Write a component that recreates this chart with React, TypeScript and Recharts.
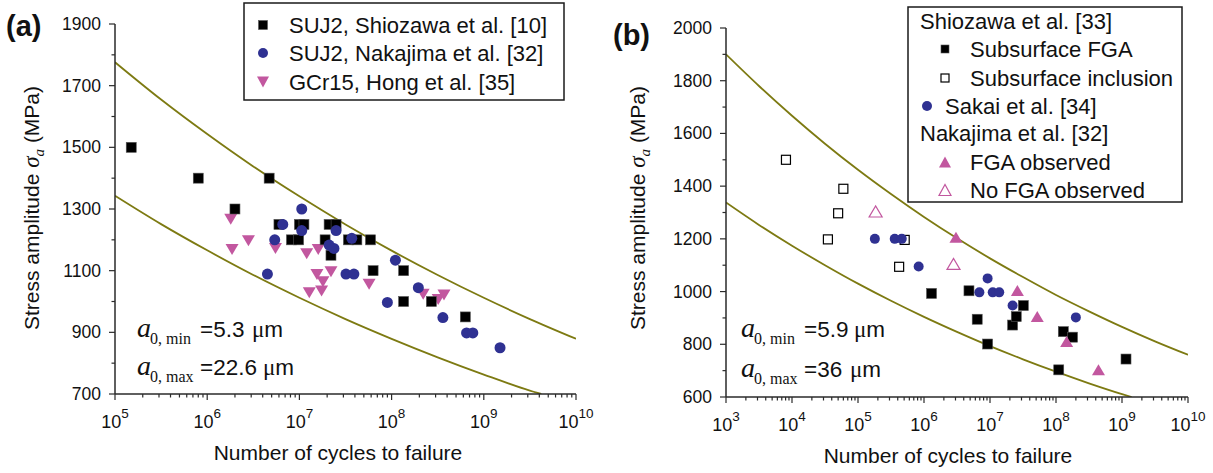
import React from 'react';
import { ComposedChart, Scatter, Line, XAxis, YAxis } from 'recharts';

const SANS = '"Liberation Sans", Arial, Helvetica, sans-serif';
const SERIF = '"Liberation Serif", "Times New Roman", serif';
const AXIS = '#2a2a2a';
const CURVE = '#7d7a12';
const BLUE = '#2f3192';
const PINK = '#c2579f';

// ---------- panel (a) ----------
const xMajorA = [1e5, 1e6, 1e7, 1e8, 1e9, 1e10];
const xExpA = ['5', '6', '7', '8', '9', '10'];
const yMajorA = [700, 900, 1100, 1300, 1500, 1700, 1900];
const yAllA = [700, 800, 900, 1000, 1100, 1200, 1300, 1400, 1500, 1600, 1700, 1800, 1900];

// SUJ2, Shiozawa et al. [10]
const shiozawaA = [
  { x: 1.5e5, y: 1500 }, { x: 8.0e5, y: 1400 }, { x: 4.7e6, y: 1400 }, { x: 2.0e6, y: 1300 },
  { x: 6.0e6, y: 1250 }, { x: 1.0e7, y: 1250 }, { x: 1.12e7, y: 1250 }, { x: 2.1e7, y: 1250 },
  { x: 2.5e7, y: 1250 }, { x: 8.2e6, y: 1200 }, { x: 9.8e6, y: 1200 }, { x: 1.9e7, y: 1200 },
  { x: 2.2e7, y: 1150 }, { x: 3.4e7, y: 1200 }, { x: 4.2e7, y: 1200 }, { x: 5.9e7, y: 1200 },
  { x: 6.3e7, y: 1100 }, { x: 1.35e8, y: 1100 }, { x: 1.35e8, y: 1000 }, { x: 2.7e8, y: 1000 },
  { x: 6.3e8, y: 950 },
];
// SUJ2, Nakajima et al. [32]
const nakajimaA = [
  { x: 1.06e7, y: 1300 }, { x: 6.6e6, y: 1250 }, { x: 1.06e7, y: 1230 }, { x: 5.4e6, y: 1200 },
  { x: 2.5e7, y: 1230 }, { x: 2.1e7, y: 1183 }, { x: 2.37e7, y: 1172 }, { x: 3.7e7, y: 1205 },
  { x: 4.5e6, y: 1089 }, { x: 3.2e7, y: 1089 }, { x: 3.9e7, y: 1089 }, { x: 1.1e8, y: 1134 },
  { x: 9.0e7, y: 997 }, { x: 1.95e8, y: 1045 }, { x: 3.6e8, y: 948 }, { x: 6.5e8, y: 898 },
  { x: 7.6e8, y: 898 }, { x: 1.5e9, y: 850 },
];
// GCr15, Hong et al. [35]
const hongA = [
  { x: 1.8e6, y: 1270 }, { x: 2.8e6, y: 1200 }, { x: 1.86e6, y: 1172 }, { x: 5.5e6, y: 1175 },
  { x: 1.2e7, y: 1158 }, { x: 1.6e7, y: 1172 }, { x: 2.2e7, y: 1100 }, { x: 1.55e7, y: 1091 },
  { x: 1.8e7, y: 1067 }, { x: 1.74e7, y: 1037 }, { x: 1.28e7, y: 1032 }, { x: 5.7e7, y: 1059 },
  { x: 2.2e8, y: 1027 }, { x: 3.2e8, y: 1010 }, { x: 3.7e8, y: 1024 },
];
// bounding curves
const upperA = [
  { x: 1e5, y: 1776 }, { x: 3.16e5, y: 1655 }, { x: 1e6, y: 1543 }, { x: 3.16e6, y: 1438 },
  { x: 1e7, y: 1341 }, { x: 3.16e7, y: 1250 }, { x: 1e8, y: 1165 }, { x: 3.16e8, y: 1086 },
  { x: 1e9, y: 1012 }, { x: 3.16e9, y: 943 }, { x: 1e10, y: 879 },
];
const lowerA = [
  { x: 1e5, y: 1343 }, { x: 3.16e5, y: 1251 }, { x: 1e6, y: 1166 }, { x: 3.16e6, y: 1086 },
  { x: 1e7, y: 1012 }, { x: 3.16e7, y: 943 }, { x: 1e8, y: 879 }, { x: 3.16e8, y: 819 },
  { x: 1e9, y: 763 }, { x: 3.16e9, y: 711 }, { x: 4.2e9, y: 700 },
];

// ---------- panel (b) ----------
const xMajorB = [1e3, 1e4, 1e5, 1e6, 1e7, 1e8, 1e9, 1e10];
const xExpB = ['3', '4', '5', '6', '7', '8', '9', '10'];
const yMajorB = [600, 800, 1000, 1200, 1400, 1600, 1800, 2000];
const yAllB = [600, 700, 800, 900, 1000, 1100, 1200, 1300, 1400, 1500, 1600, 1700, 1800, 1900, 2000];

// Shiozawa et al. [33] subsurface FGA
const fgaB = [
  { x: 1.3e6, y: 993 }, { x: 4.8e6, y: 1003 }, { x: 6.4e6, y: 895 }, { x: 9.2e6, y: 801 },
  { x: 2.2e7, y: 873 }, { x: 2.5e7, y: 905 }, { x: 3.2e7, y: 947 }, { x: 1.29e8, y: 848 },
  { x: 1.78e8, y: 827 }, { x: 1.1e8, y: 703 }, { x: 1.15e9, y: 744 },
];
// Shiozawa et al. [33] subsurface inclusion
const inclusionB = [
  { x: 8.1e3, y: 1500 }, { x: 6.0e4, y: 1390 }, { x: 5.0e4, y: 1297 }, { x: 3.5e4, y: 1198 },
  { x: 5.1e5, y: 1196 }, { x: 4.2e5, y: 1094 },
];
// Sakai et al. [34]
const sakaiB = [
  { x: 1.8e5, y: 1200 }, { x: 3.6e5, y: 1200 }, { x: 4.6e5, y: 1200 }, { x: 8.3e5, y: 1095 },
  { x: 9.2e6, y: 1050 }, { x: 6.9e6, y: 997 }, { x: 1.1e7, y: 997 }, { x: 1.38e7, y: 997 },
  { x: 2.2e7, y: 947 }, { x: 2.0e8, y: 902 },
];
// Nakajima et al. [32]
const fgaObsB = [
  { x: 3.05e6, y: 1202 }, { x: 2.6e7, y: 1000 }, { x: 5.2e7, y: 902 }, { x: 1.45e8, y: 807 },
  { x: 4.4e8, y: 700 },
];
const noFgaB = [{ x: 1.85e5, y: 1300 }, { x: 2.8e6, y: 1101 }];

const upperB = [
  { x: 1e3, y: 1900 }, { x: 3.16e3, y: 1780 }, { x: 1e4, y: 1667 }, { x: 3.16e4, y: 1561 },
  { x: 1e5, y: 1462 }, { x: 3.16e5, y: 1370 }, { x: 1e6, y: 1283 }, { x: 3.16e6, y: 1202 },
  { x: 1e7, y: 1126 }, { x: 3.16e7, y: 1055 }, { x: 1e8, y: 987 }, { x: 3.16e8, y: 925 },
  { x: 1e9, y: 866 }, { x: 3.16e9, y: 811 }, { x: 1e10, y: 760 },
];
const lowerB = [
  { x: 1e3, y: 1338 }, { x: 3.16e3, y: 1253 }, { x: 1e4, y: 1174 }, { x: 3.16e4, y: 1100 },
  { x: 1e5, y: 1030 }, { x: 3.16e5, y: 965 }, { x: 1e6, y: 904 }, { x: 3.16e6, y: 847 },
  { x: 1e7, y: 793 }, { x: 3.16e7, y: 743 }, { x: 1e8, y: 696 }, { x: 3.16e8, y: 652 },
  { x: 1e9, y: 611 }, { x: 1.4e9, y: 600 },
];

// decade ticks plus 2..9 minors
const withMinors = (majors: number[]) => {
  const out: number[] = [];
  majors.forEach((m, i) => {
    out.push(m);
    if (i < majors.length - 1) for (let k = 2; k <= 9; k++) out.push(m * k);
  });
  return out;
};

// ---------- markers ----------
const Square = ({ cx, cy, s = 10, fill = '#000', open = false }: any) => (
  <rect x={cx - s / 2} y={cy - s / 2} width={s} height={s}
    fill={open ? '#fff' : fill} stroke={open ? '#000' : '#555'} strokeWidth={open ? 1.2 : 0.6} />
);
const Dot = ({ cx, cy, r = 5.5 }: any) => <circle cx={cx} cy={cy} r={r} fill={BLUE} />;
const TriDown = ({ cx, cy, w = 13 }: any) => (
  <polygon points={`${cx - w / 2},${cy - 4.5} ${cx + w / 2},${cy - 4.5} ${cx},${cy + 6.5}`} fill={PINK} />
);
const TriUp = ({ cx, cy, w = 13, open = false }: any) => (
  <polygon points={`${cx - w / 2},${cy + 4.5} ${cx + w / 2},${cy + 4.5} ${cx},${cy - 6.5}`}
    fill={open ? '#fff' : PINK} stroke={PINK} strokeWidth={open ? 1.2 : 0} />
);

// ---------- ticks ----------
const bottomTick = (majors: number[], exps: string[]) => (props: any) => {
  const { x, y, payload } = props;
  const idx = majors.indexOf(payload.value);
  const major = idx >= 0;
  return (
    <g>
      <line x1={x} x2={x} y1={y} y2={y + (major ? 6 : 3.5)} stroke={AXIS} strokeWidth={1.2} />
      {major && (
        <text x={x} y={y + 34} textAnchor="middle" fontFamily={SANS} fontSize={18} fill="#111">
          <tspan>10</tspan>
          <tspan dy={-10} fontSize={13.5}>{exps[idx]}</tspan>
        </text>
      )}
    </g>
  );
};
const topTick = (majors: number[]) => (props: any) => {
  const { x, y, payload } = props;
  const major = majors.includes(payload.value);
  return <line x1={x} x2={x} y1={y} y2={y + (major ? 5 : 3)} stroke={AXIS} strokeWidth={1.2} />;
};
const leftTick = (majors: number[]) => (props: any) => {
  const { x, y, payload } = props;
  const major = majors.includes(payload.value);
  return (
    <g>
      <line x1={x} x2={x - (major ? 6 : 3.5)} y1={y} y2={y} stroke={AXIS} strokeWidth={1.2} />
      {major && (
        <text x={x - 14} y={y + 6} textAnchor="end" fontFamily={SANS} fontSize={17.5} fill="#111">
          {payload.value}
        </text>
      )}
    </g>
  );
};
const rightTick = (majors: number[]) => (props: any) => {
  const { x, y, payload } = props;
  const major = majors.includes(payload.value);
  return <line x1={x} x2={x - (major ? 5 : 3)} y1={y} y2={y} stroke={AXIS} strokeWidth={1.2} />;
};

const axisLine = { stroke: AXIS, strokeWidth: 1.5 };

function Panel(props: {
  width: number; top: number; right: number; yWidth: number; xHeight: number;
  xDomain: [number, number]; yDomain: [number, number];
  xMajor: number[]; xExp: string[]; yMajor: number[]; yAll: number[];
  children: React.ReactNode;
}) {
  const { width, top, right, yWidth, xHeight, xDomain, yDomain, xMajor, xExp, yMajor, yAll } = props;
  const xAll = withMinors(xMajor);
  return (
    <ComposedChart width={width} height={473} margin={{ top, right, bottom: 0, left: 0 }}>
      <XAxis xAxisId="b" dataKey="x" type="number" scale="log" domain={xDomain} ticks={xAll}
        allowDataOverflow interval={0} height={xHeight} tickSize={0} tickMargin={0}
        tickLine={false} axisLine={axisLine} tick={bottomTick(xMajor, xExp)} />
      <XAxis xAxisId="t" orientation="top" dataKey="x" type="number" scale="log" domain={xDomain}
        ticks={xAll} allowDataOverflow interval={0} height={0} tickSize={0} tickMargin={0}
        tickLine={false} axisLine={axisLine} tick={topTick(xMajor)} />
      <YAxis yAxisId="l" dataKey="y" type="number" domain={yDomain} ticks={yAll} allowDataOverflow
        interval={0} width={yWidth} tickSize={0} tickMargin={0} tickLine={false}
        axisLine={axisLine} tick={leftTick(yMajor)} />
      <YAxis yAxisId="r" orientation="right" dataKey="y" type="number" domain={yDomain} ticks={yAll}
        allowDataOverflow interval={0} width={0} tickSize={0} tickMargin={0} tickLine={false}
        axisLine={axisLine} tick={rightTick(yMajor)} />
      {props.children}
    </ComposedChart>
  );
}

const curve = (data: any[], key: string) => (
  <Line key={key} data={data} dataKey="y" xAxisId="b" yAxisId="l" type="monotone"
    stroke={CURVE} strokeWidth={1.8} dot={false} activeDot={false} isAnimationActive={false} />
);

const Annot = ({ x, y, sub, val, mu }: any) => (
  <text y={y} fill="#111">
    <tspan x={x} fontFamily={SERIF} fontStyle="italic" fontSize={28}>a</tspan>
    <tspan x={x + 13} dy={7} fontFamily={SERIF} fontSize={16}>{sub}</tspan>
    <tspan x={x + 63} dy={-7} fontFamily={SANS} fontSize={22.5}>{val}</tspan>
    <tspan x={mu} fontFamily={SERIF} fontSize={23}>μ</tspan>
    <tspan fontFamily={SANS} fontSize={22.5}>m</tspan>
  </text>
);

const YTitle = ({ x, y }: any) => (
  <text transform={`translate(${x},${y}) rotate(-90)`} textAnchor="middle" fontFamily={SANS}
    fontSize={21} fill="#111">
    <tspan>Stress amplitude </tspan>
    <tspan fontFamily={SERIF} fontStyle="italic" fontSize={23}>σ</tspan>
    <tspan fontFamily={SERIF} fontStyle="italic" fontSize={15} dy={5}>a</tspan>
    <tspan dy={-5}> (MPa)</tspan>
  </text>
);

function Overlay() {
  const t = { fontFamily: SANS, fontSize: 22, fill: '#111' } as const;
  return (
    <svg width={1213} height={473} style={{ position: 'absolute', left: 0, top: 0, pointerEvents: 'none' }}>
      <text x={6} y={36} fontFamily={SANS} fontWeight="bold" fontSize={29} fill="#111">(a)</text>
      <text x={613} y={45} fontFamily={SANS} fontWeight="bold" fontSize={29} fill="#111">(b)</text>

      <YTitle x={39} y={208} />
      <YTitle x={645} y={208} />
      <text x={338} y={460} textAnchor="middle" {...t} fontSize={21}>Number of cycles to failure</text>
      <text x={948} y={463} textAnchor="middle" {...t} fontSize={21}>Number of cycles to failure</text>

      <Annot x={137} y={337} sub="0, min" val="=5.3" mu={252} />
      <Annot x={137} y={375} sub="0, max" val="=22.6" mu={263} />
      <Annot x={741} y={337} sub="0, min" val="=5.9" mu={854} />
      <Annot x={741} y={377} sub="0, max" val="=36" mu={850} />

      {/* legend (a) */}
      <rect x={244} y={3} width={320} height={97} fill="#fff" stroke="#1a1a1a" strokeWidth={1.5} />
      <Square cx={263} cy={25} s={9} />
      <text x={289} y={33} {...t}>SUJ2, Shiozawa et al. [10]</text>
      <Dot cx={263} cy={53} r={5} />
      <text x={289} y={61} {...t}>SUJ2, Nakajima et al. [32]</text>
      <TriDown cx={263} cy={81} w={12} />
      <text x={289} y={90} {...t}>GCr15, Hong et al. [35]</text>

      {/* legend (b) */}
      <rect x={908} y={7} width={274} height={195} fill="#fff" stroke="#1a1a1a" strokeWidth={1.5} />
      <text x={920} y={29} {...t}>Shiozawa et al. [33]</text>
      <Square cx={945} cy={49} s={8} />
      <text x={970} y={57} {...t}>Subsurface FGA</text>
      <Square cx={945} cy={78} s={8} open />
      <text x={970} y={86} {...t}>Subsurface inclusion</text>
      <Dot cx={927} cy={106} r={5} />
      <text x={945} y={114} {...t}>Sakai et al. [34]</text>
      <text x={920} y={141} {...t}>Nakajima et al. [32]</text>
      <TriUp cx={945} cy={163} w={12} />
      <text x={970} y={170} {...t}>FGA observed</text>
      <TriUp cx={945} cy={191} w={12} open />
      <text x={970} y={198} {...t}>No FGA observed</text>
    </svg>
  );
}

export default function App() {
  return (
    <div style={{ position: 'absolute', left: 0, top: 0, width: 1213, height: 473, background: '#fff' }}>
      <div style={{ position: 'absolute', left: 0, top: 0 }}>
        <Panel width={600} top={24} right={24} yWidth={115} xHeight={79}
          xDomain={[1e5, 1e10]} yDomain={[700, 1900]}
          xMajor={xMajorA} xExp={xExpA} yMajor={yMajorA} yAll={yAllA}>
          {curve(upperA, 'ua')}
          {curve(lowerA, 'la')}
          <Scatter data={hongA} xAxisId="b" yAxisId="l" shape={(p: any) => <TriDown cx={p.cx} cy={p.cy} />} isAnimationActive={false} />
          <Scatter data={shiozawaA} xAxisId="b" yAxisId="l" shape={(p: any) => <Square cx={p.cx} cy={p.cy} />} isAnimationActive={false} />
          <Scatter data={nakajimaA} xAxisId="b" yAxisId="l" shape={(p: any) => <Dot cx={p.cx} cy={p.cy} />} isAnimationActive={false} />
        </Panel>
      </div>
      <div style={{ position: 'absolute', left: 600, top: 0 }}>
        <Panel width={613} top={28} right={25} yWidth={126} xHeight={76}
          xDomain={[1e3, 1e10]} yDomain={[600, 2000]}
          xMajor={xMajorB} xExp={xExpB} yMajor={yMajorB} yAll={yAllB}>
          {curve(upperB, 'ub')}
          {curve(lowerB, 'lb')}
          <Scatter data={inclusionB} xAxisId="b" yAxisId="l" shape={(p: any) => <Square cx={p.cx} cy={p.cy} s={9} open />} isAnimationActive={false} />
          <Scatter data={fgaB} xAxisId="b" yAxisId="l" shape={(p: any) => <Square cx={p.cx} cy={p.cy} />} isAnimationActive={false} />
          <Scatter data={sakaiB} xAxisId="b" yAxisId="l" shape={(p: any) => <Dot cx={p.cx} cy={p.cy} r={5} />} isAnimationActive={false} />
          <Scatter data={fgaObsB} xAxisId="b" yAxisId="l" shape={(p: any) => <TriUp cx={p.cx} cy={p.cy} />} isAnimationActive={false} />
          <Scatter data={noFgaB} xAxisId="b" yAxisId="l" shape={(p: any) => <TriUp cx={p.cx} cy={p.cy} open />} isAnimationActive={false} />
        </Panel>
      </div>
      <Overlay />
    </div>
  );
}
